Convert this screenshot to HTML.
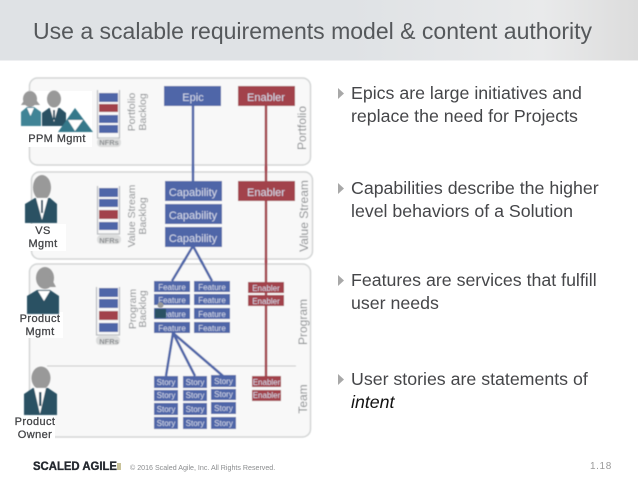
<!DOCTYPE html>
<html><head><meta charset="utf-8">
<style>
html,body{margin:0;padding:0;background:#fff;width:638px;height:479px;overflow:hidden}
svg{display:block;font-family:"Liberation Sans",sans-serif}
.b{fill:#4f66a8}.r{fill:#a2434c}
.tb text{fill:#d5daea;text-anchor:middle}
.v{fill:#8a8d90;text-anchor:middle}
.bu{font-size:17.750px;fill:#454649}
.lbl{font-size:11px;fill:#454649;stroke:#454649;stroke-width:.3;letter-spacing:.4px;text-anchor:middle}
.nf{font-size:7.500px;font-weight:bold;fill:#8a8d90;text-anchor:middle}
</style></head><body>
<svg width="638" height="479" viewBox="0 0 638 479" xmlns="http://www.w3.org/2000/svg">
<defs>
<linearGradient id="hd" x1="0" x2="1" y1="0" y2="0">
<stop offset="0" stop-color="#dfe2e5"/><stop offset=".55" stop-color="#dfe2e5"/><stop offset=".85" stop-color="#e9eaeb"/><stop offset="1" stop-color="#dcdcdc"/>
</linearGradient>
<filter id="s" x="-5%" y="-5%" width="110%" height="110%"><feGaussianBlur stdDeviation=".5"/></filter>
</defs>
<rect width="638" height="60.500" fill="url(#hd)"/>
<text x="33" y="39" font-size="23.030" fill="#55585b">Use a scalable requirements model &amp; content authority</text>

<g filter="url(#s)">
<rect x="29.500" y="78" width="281" height="87" rx="8" fill="#f8f8f8" stroke="#d3d5d5" stroke-width="1.500"/>
<rect x="31.500" y="172" width="281" height="87" rx="8" fill="#f8f8f8" stroke="#d3d5d5" stroke-width="1.500"/>
<rect x="29.500" y="264" width="281" height="173" rx="8" fill="#f8f8f8" stroke="#d3d5d5" stroke-width="1.500"/>
<line x1="47" y1="366" x2="296" y2="366" stroke="#c9cbcb" stroke-width="1"/>

<!-- connectors -->
<g stroke="#4f66a8" stroke-width="2.500" fill="none">
<line x1="193" y1="106" x2="193" y2="181"/>
<line x1="193" y1="246" x2="172" y2="281"/>
<line x1="193" y1="246" x2="212" y2="281"/>
<line x1="173" y1="333" x2="166" y2="376"/>
<line x1="173" y1="333" x2="195" y2="376"/>
<line x1="173" y1="333" x2="223" y2="376"/>
</g>
<g stroke="#a2434c" stroke-width="2.500" fill="none">
<line x1="266" y1="106" x2="266" y2="181"/>
<line x1="266" y1="201" x2="266" y2="376"/>
</g>

<!-- backlogs -->
<g fill="none" stroke="#b9bcbf" stroke-width="1.200">
<path d="M97.500 90V138H119.500V90"/>
<path d="M97.500 186V234H119.500V186"/>
<path d="M96.500 287V335H119.500V287"/>
</g>
<rect class="b" x="99" y="93" width="19" height="9"/><rect class="r" x="99" y="104" width="19" height="8"/><rect class="b" x="99" y="115" width="19" height="8"/><rect class="b" x="99" y="125" width="19" height="8"/>
<rect class="b" x="99" y="188" width="19" height="9"/><rect class="b" x="99" y="199" width="19" height="8"/><rect class="r" x="99" y="210" width="19" height="9"/><rect class="b" x="99" y="222" width="19" height="8"/>
<rect class="b" x="99" y="288" width="19" height="9"/><rect class="b" x="99" y="299" width="19" height="9"/><rect class="r" x="99" y="311" width="19" height="9"/><rect class="b" x="99" y="323" width="19" height="9"/>
<g fill="#dcdddd"><rect x="97" y="138" width="24" height="9" rx="4"/><rect x="97" y="235" width="24" height="9" rx="4"/><rect x="96" y="336" width="24" height="9" rx="4"/></g>
<text class="nf" x="109" y="145">NFRs</text><text class="nf" x="109" y="243">NFRs</text><text class="nf" x="109" y="344">NFRs</text>

<!-- vertical labels -->
<g font-size="10.500">
<text class="v" transform="translate(135,112) rotate(-90)">Portfolio</text>
<text class="v" transform="translate(146,112) rotate(-90)">Backlog</text>
<text class="v" transform="translate(135,216) rotate(-90)">Value Stream</text>
<text class="v" transform="translate(146,216) rotate(-90)">Backlog</text>
<text class="v" transform="translate(136,309) rotate(-90)">Program</text>
<text class="v" transform="translate(146,309) rotate(-90)">Backlog</text>
</g>
<g font-size="12">
<text class="v" transform="translate(306,128) rotate(-90)">Portfolio</text>
<text class="v" transform="translate(308,216) rotate(-90)">Value Stream</text>
<text class="v" transform="translate(307,322) rotate(-90)">Program</text>
<text class="v" transform="translate(307,399) rotate(-90)">Team</text>
</g>

<!-- boxes -->
<rect class="b" x="164" y="86" width="57" height="20"/>
<rect class="r" x="238" y="86" width="57" height="20"/>
<rect class="b" x="165" y="181" width="57" height="20"/>
<rect class="b" x="165" y="204" width="57" height="20"/>
<rect class="b" x="165" y="227" width="57" height="20"/>
<rect class="r" x="238" y="181" width="57" height="20"/>
<g class="tb" font-size="11">
<text x="193" y="101">Epic</text><text x="266" y="101">Enabler</text>
<text x="193" y="196">Capability</text><text x="193" y="219">Capability</text><text x="193" y="242">Capability</text>
<text x="266" y="196">Enabler</text>
</g>
<g class="b">
<rect x="154" y="281" width="36" height="11"/><rect x="154" y="294" width="36" height="11"/><rect x="154" y="308" width="36" height="11"/><rect x="154" y="322" width="36" height="11"/>
<rect x="194" y="281" width="36" height="11"/><rect x="194" y="294" width="36" height="11"/><rect x="194" y="308" width="36" height="11"/><rect x="194" y="322" width="36" height="11"/>
<rect x="154" y="376" width="24" height="12"/><rect x="154" y="390" width="24" height="11"/><rect x="154" y="403" width="24" height="12"/><rect x="154" y="417" width="24" height="12"/>
<rect x="183" y="376" width="24" height="12"/><rect x="183" y="390" width="24" height="11"/><rect x="183" y="403" width="24" height="12"/><rect x="183" y="417" width="24" height="12"/>
<rect x="211" y="375" width="25" height="12"/><rect x="211" y="389" width="25" height="11"/><rect x="211" y="402" width="25" height="12"/><rect x="211" y="417" width="25" height="12"/>
</g>
<g class="r">
<rect x="248" y="282" width="36" height="11"/><rect x="248" y="295" width="36" height="11"/>
<rect x="252" y="376" width="29" height="11"/><rect x="252" y="390" width="29" height="11"/>
</g>
<g class="tb" font-size="8">
<text x="172" y="290">Feature</text><text x="172" y="303">Feature</text><text x="172" y="317">Feature</text><text x="172" y="331">Feature</text>
<text x="212" y="290">Feature</text><text x="212" y="303">Feature</text><text x="212" y="317">Feature</text><text x="212" y="331">Feature</text>
<text x="166" y="385">Story</text><text x="166" y="398">Story</text><text x="166" y="412">Story</text><text x="166" y="426">Story</text>
<text x="195" y="385">Story</text><text x="195" y="398">Story</text><text x="195" y="412">Story</text><text x="195" y="426">Story</text>
<text x="223.500" y="384">Story</text><text x="223.500" y="397">Story</text><text x="223.500" y="411">Story</text><text x="223.500" y="426">Story</text>
<text x="266" y="291">Enabler</text><text x="266" y="304">Enabler</text>
<text x="266.500" y="385">Enabler</text><text x="266.500" y="398">Enabler</text>
</g>
</g>

<!-- label backgrounds -->
<rect x="20" y="91" width="72" height="56" fill="#fff"/>
<rect x="26" y="224" width="40" height="27" fill="#fff"/>
<rect x="20" y="312" width="43" height="26" fill="#fff"/>
<rect x="15" y="415" width="40" height="25" fill="#fff"/>

<!-- people -->
<g filter="url(#s)">
<!-- PPM -->
<path d="M21 105L30 92L40 105Z" fill="#999"/><ellipse cx="30" cy="99" rx="7" ry="8" fill="#999"/>
<path d="M21 126V112L27 107H34L41 112V126Z" fill="#3f8496"/><path d="M27 108L30.500 116L34 108Z" fill="#fff"/>
<ellipse cx="54" cy="99" rx="7" ry="8.500" fill="#999"/>
<path d="M42 126V113L49 108H60L66 113V126Z" fill="#2b5163"/><path d="M50 108L54 122L58 108Z" fill="#fff"/><rect x="53" y="110" width="2" height="10" fill="#2b5163"/>
<path d="M75 108L93 132H58Z" fill="#34788a"/><path d="M68 120H83L75 131Z" fill="#fff"/>
<!-- VS -->
<ellipse cx="42" cy="187.500" rx="9" ry="12.500" fill="#999"/>
<path d="M25 223V204L35 198H50L57 204V223Z" fill="#2b5163"/><path d="M36 198L42 220L48 198Z" fill="#fff"/><rect x="41" y="200" width="2" height="13" fill="#2b5163"/>
<!-- Product Mgmt -->
<ellipse cx="45" cy="278" rx="9" ry="11" fill="#999"/><path d="M50 276L56 287H44Z" fill="#999"/>
<path d="M27 314V296L37 290H50L59 296V314Z" fill="#2b5163"/><path d="M38 291L44 301L50 291Z" fill="#fff"/>
<!-- Product Owner -->
<ellipse cx="41" cy="378" rx="9.500" ry="11.500" fill="#999"/>
<path d="M24 415V394L33 388H48L57 394V415Z" fill="#2b5163"/><path d="M34 388L40 414L46 388Z" fill="#fff"/><rect x="39" y="392" width="2.500" height="14" fill="#2b5163"/>
<!-- small person -->
<circle cx="160.500" cy="305" r="3" fill="#999"/><rect x="155" y="309" width="11" height="9" fill="#2b5163"/>
</g>
<text class="lbl" x="57" y="142">PPM Mgmt</text>
<text class="lbl" x="43" y="234">VS</text><text class="lbl" x="43" y="247">Mgmt</text>
<text class="lbl" x="40" y="322">Product</text><text class="lbl" x="40" y="335">Mgmt</text>
<text class="lbl" x="35" y="425">Product</text><text class="lbl" x="35" y="438">Owner</text>

<!-- bullets -->
<g fill="#a8a8a8">
<path d="M338 88L344 93.500L338 99Z"/><path d="M338 183L344 188.500L338 194Z"/><path d="M338 275L344 280.500L338 286Z"/><path d="M338 374L344 379.500L338 385Z"/>
</g>
<text class="bu" x="351" y="99">Epics are large initiatives and</text>
<text class="bu" x="351" y="122">replace the need for Projects</text>
<text class="bu" x="351" y="194">Capabilities describe the higher</text>
<text class="bu" x="351" y="217">level behaviors of a Solution</text>
<text class="bu" x="351" y="286">Features are services that fulfill</text>
<text class="bu" x="351" y="309">user needs</text>
<text class="bu" x="351" y="385">User stories are statements of</text>
<text class="bu" x="351" y="408" font-style="italic" style="fill:#111">intent</text>

<!-- footer -->
<text x="33" y="470" font-size="12" font-weight="bold" fill="#23272e" stroke="#23272e" stroke-width=".35" textLength="84" lengthAdjust="spacingAndGlyphs">SCALED AGILE</text>
<rect x="117" y="463" width="4" height="7" fill="#c9c39a"/>
<text x="130" y="470" font-size="7.100" fill="#8a8c8e">© 2016 Scaled Agile, Inc. All Rights Reserved.</text>
<text x="590" y="469" font-size="10" letter-spacing=".6" fill="#9a9a9a">1.18</text>
</svg>
</body></html>
